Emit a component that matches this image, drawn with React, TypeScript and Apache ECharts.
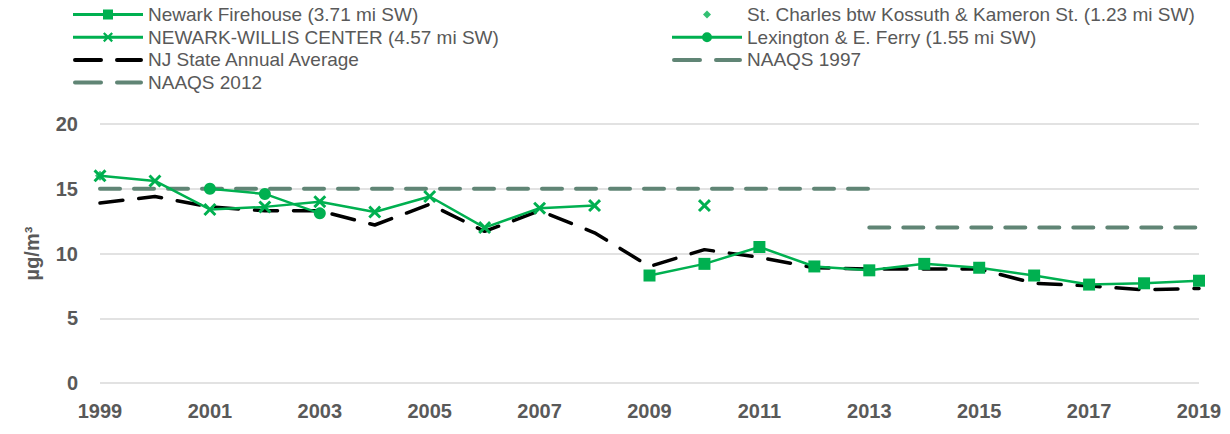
import React, { useEffect, useRef } from "react";
import * as echarts from "echarts";

const years = ["1999","2000","2001","2002","2003","2004","2005","2006","2007","2008","2009","2010","2011","2012","2013","2014","2015","2016","2017","2018","2019"];
const newarkFirehouse = [null,null,null,null,null,null,null,null,null,null,8.3,9.2,10.5,9.0,8.7,9.2,8.9,8.3,7.6,7.7,7.9];
const stCharles = [16.0,null,null,null,null,null,null,null,null,null,null,null,null,null,null,null,null,null,null,null,null];
const willisCenter = [16.0,15.6,13.4,13.6,14.0,13.2,14.4,12.0,13.5,13.7,null,13.7,null,null,null,null,null,null,null,null,null];
const lexington = [null,null,15.0,14.6,13.1,null,null,null,null,null,null,null,null,null,null,null,null,null,null,null,null];
const njAverage = [13.9,14.4,13.6,13.3,13.3,12.2,13.8,11.7,13.3,11.6,9.0,10.3,9.7,8.9,8.8,8.8,8.8,7.7,7.5,7.2,7.3];
const naaqs1997 = [15,15,15,15,15,15,15,15,15,15,15,15,15,15,15,null,null,null,null,null,null];
const naaqs2012 = [null,null,null,null,null,null,null,null,null,null,null,null,null,null,12,12,12,12,12,12,12];

const GREEN = "#00b050";
const NAAQS = "#608575";
const FONT = "'Liberation Sans', Arial, sans-serif";
const XSYM = "path://M0,1.6 L1.6,0 L5,3.4 L8.4,0 L10,1.6 L6.6,5 L10,8.4 L8.4,10 L5,6.6 L1.6,10 L0,8.4 L3.4,5 Z";

// legend icons in a 70x12 box
const CORNERS = " M0,0 L0.01,0 L0,0.01 Z M70,12 L69.99,12 L70,11.99 Z";
const LINE = "M0,4.5 H70 V7.5 H0 Z";
const ICON_SQUARE = "path://" + LINE + " M30,1 H40 V11 H30 Z" + CORNERS;
const ICON_X = "path://" + LINE + " M30,2.6 L31.6,1 L35,4.4 L38.4,1 L40,2.6 L36.6,6 L40,9.4 L38.4,11 L35,7.6 L31.6,11 L30,9.4 L33.4,6 Z" + CORNERS;
const ICON_CIRCLE = "path://" + LINE + " M30,6 A5,5 0 1,1 40,6 A5,5 0 1,1 30,6 Z" + CORNERS;
const ICON_DIAMOND = "path://M35,2 L39,6 L35,10 L31,6 Z" + CORNERS;
const ICON_DASH = "path://M2,4 H28 A2,2 0 0 1 28,8 H2 A2,2 0 0 1 2,4 Z M44,4 H68 A2,2 0 0 1 68,8 H44 A2,2 0 0 1 44,4 Z" + CORNERS;

export default function App() {
  const ref = useRef<HTMLDivElement>(null);
  useEffect(() => {
    const chart = echarts.init(ref.current!, null, { renderer: "svg" });
    const legendText = { color: "#595959", fontSize: 19, fontFamily: FONT, lineHeight: 19 };
    const legendCommon = {
      orient: "vertical", top: 5, itemWidth: 70, itemHeight: 12, itemGap: 3.7,
      textStyle: legendText, itemStyle: { borderWidth: 0 }, padding: 0,
    };
    chart.setOption({
      animation: false,
      textStyle: { fontFamily: FONT },
      legend: [
        {
          ...legendCommon, left: 73,
          data: [
            { name: "Newark Firehouse (3.71 mi SW)", icon: ICON_SQUARE },
            { name: "NEWARK-WILLIS CENTER (4.57 mi SW)", icon: ICON_X },
            { name: "NJ State Annual Average", icon: ICON_DASH },
            { name: "NAAQS 2012", icon: ICON_DASH },
          ],
        },
        {
          ...legendCommon, left: 672,
          data: [
            { name: "St. Charles btw Kossuth & Kameron St. (1.23 mi SW)", icon: ICON_DIAMOND },
            { name: "Lexington & E. Ferry (1.55 mi SW)", icon: ICON_CIRCLE },
            { name: "NAAQS 1997", icon: ICON_DASH },
          ],
        },
      ],
      grid: { left: 100, right: 31, top: 124, bottom: 51 },
      xAxis: {
        type: "category", data: years, boundaryGap: false,
        axisLine: { show: false }, axisTick: { show: false },
        axisLabel: { interval: 1, color: "#595959", fontSize: 20, fontWeight: "bold", margin: 18, fontFamily: FONT },
      },
      yAxis: {
        type: "value", min: 0, max: 20, interval: 5,
        name: "µg/m³", nameLocation: "middle", nameGap: 58,
        nameTextStyle: { color: "#595959", fontSize: 20, fontWeight: "bold", fontFamily: FONT },
        axisLabel: { color: "#595959", fontSize: 20, fontWeight: "bold", margin: 22, fontFamily: FONT },
        splitLine: { lineStyle: { color: "#d9d9d9", width: 1.5 } },
      },
      series: [
        {
          name: "Newark Firehouse (3.71 mi SW)", type: "line", data: newarkFirehouse, z: 5,
          symbol: "rect", symbolSize: 12, itemStyle: { color: GREEN },
          lineStyle: { color: GREEN, width: 2.5 },
        },
        {
          name: "St. Charles btw Kossuth & Kameron St. (1.23 mi SW)", type: "scatter", data: stCharles, z: 5,
          symbol: "diamond", symbolSize: 10, itemStyle: { color: GREEN },
        },
        {
          name: "NEWARK-WILLIS CENTER (4.57 mi SW)", type: "line", data: willisCenter, z: 5,
          symbol: XSYM, symbolSize: 13, itemStyle: { color: GREEN },
          lineStyle: { color: GREEN, width: 2.5 },
        },
        {
          name: "Lexington & E. Ferry (1.55 mi SW)", type: "line", data: lexington, z: 5,
          symbol: "circle", symbolSize: 12, itemStyle: { color: GREEN },
          lineStyle: { color: GREEN, width: 2.5 },
        },
        {
          name: "NJ State Annual Average", type: "line", data: njAverage, z: 4,
          symbol: "none", itemStyle: { color: "#000" },
          lineStyle: { color: "#000", width: 3.5, type: [23, 16], cap: "round" },
        },
        {
          name: "NAAQS 1997", type: "line", data: naaqs1997, z: 3,
          symbol: "none", itemStyle: { color: NAAQS },
          lineStyle: { color: NAAQS, width: 4, type: [20, 14], cap: "round" },
        },
        {
          name: "NAAQS 2012", type: "line", data: naaqs2012, z: 3,
          symbol: "none", itemStyle: { color: NAAQS },
          lineStyle: { color: NAAQS, width: 4, type: [20, 14], cap: "round" },
        },
      ],
    });
    return () => chart.dispose();
  }, []);
  return <div ref={ref} style={{ width: 1230, height: 434, position: "absolute", left: 0, top: 0 }} />;
}
